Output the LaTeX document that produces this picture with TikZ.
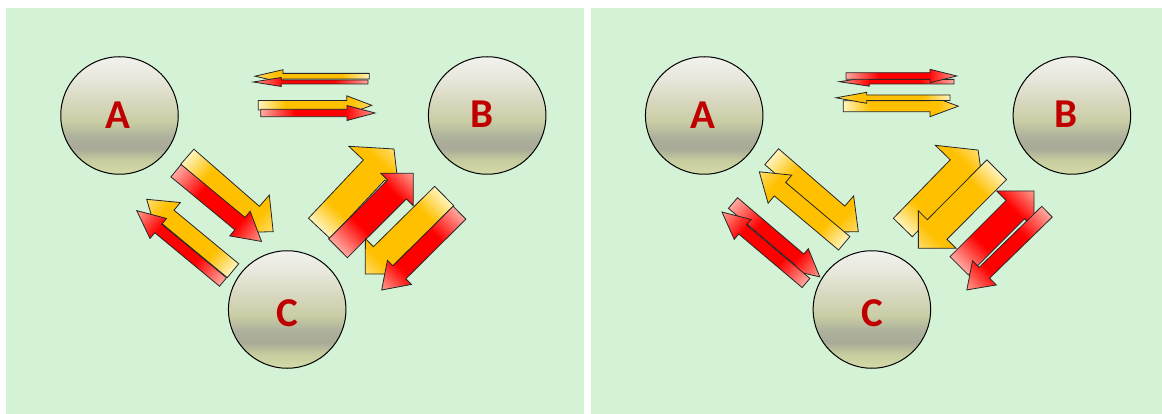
\documentclass[tikz,border=0pt]{standalone}
\usepackage{fontspec}
\setmainfont{Carlito}
\definecolor{bg}{RGB}{212,242,213}
\definecolor{lblred}{RGB}{192,0,0}
\definecolor{yl}{RGB}{255,244,190}
\definecolor{yo}{RGB}{255,192,0}
\definecolor{yh}{RGB}{255,222,110}
\definecolor{rl}{RGB}{255,170,160}
\definecolor{rr}{RGB}{255,0,0}
\definecolor{rh}{RGB}{255,160,145}
\definecolor{c1}{RGB}{242,242,238}
\definecolor{c2}{RGB}{230,230,218}
\definecolor{c3}{RGB}{214,214,188}
\definecolor{c4}{RGB}{201,206,164}
\definecolor{c5}{RGB}{174,177,156}
\definecolor{c6}{RGB}{168,170,151}
\definecolor{c7}{RGB}{198,204,158}
\definecolor{c8}{RGB}{212,218,168}
\pgfdeclareverticalshading{orb}{100bp}{color(0bp)=(c8); color(25bp)=(c8); color(31bp)=(c7); color(36bp)=(c6); color(41bp)=(c5); color(47.5bp)=(c4); color(55bp)=(c3); color(65bp)=(c2); color(75bp)=(c1); color(100bp)=(c1)}
\pgfdeclarehorizontalshading{yshade}{100bp}{color(0bp)=(yl); color(25bp)=(yl); color(37bp)=(yo); color(66bp)=(yo); color(75bp)=(yh); color(100bp)=(yh)}
\pgfdeclarehorizontalshading{rshade}{100bp}{color(0bp)=(rl); color(25bp)=(rl); color(40bp)=(rr); color(62bp)=(rr); color(75bp)=(rh); color(100bp)=(rh)}
\tikzset{
  yarr/.style={draw=black!85, line width=0.8pt, shading=yshade},
  rarr/.style={draw=black!85, line width=0.8pt, shading=rshade},
  ballnode/.style={circle, draw=black, line width=1pt, shading=orb, minimum size=117.5pt, inner sep=0pt},
  lbl/.style={font=\fontsize{41}{41}\selectfont\bfseries, text=lblred, inner sep=0pt},
  panel/.style={fill=bg, draw=none}
}
% #1 style, (#2,#3) tail centre, #4 angle, #5 length, #6 shaft half width, #7 head half width, #8 head length
\newcommand{\blockarrow}[8]{%
  \begin{scope}[transform canvas={shift={(#2,#3)},rotate=#4}]
    \path[#1] (0,#6) -- ({#5-#8},#6) -- ({#5-#8},#7) -- (#5,0) -- ({#5-#8},-#7) -- ({#5-#8},-#6) -- (0,-#6) -- cycle;
  \end{scope}}
\begin{document}
\begin{tikzpicture}[x=1pt,y=-1pt]
\useasboundingbox[fill=white] (0,0) rectangle (1162,414);
\path[panel] (5.5,8.5) rectangle (584,413.5);
\path[panel] (590.5,8.5) rectangle (1162,413.5);

% ---------- left panel ----------
\node[ballnode] (A1) at (119.5,115.5) {};
\node[ballnode] (B1) at (487.2,115.5) {};
\node[ballnode] (C1) at (287.2,309.5) {};
\node[lbl] (A1l) at (118.3,115) {A};
\node[lbl] (B1l) at (481.7,114) {B};
\node[lbl] (C1l) at (287.3,313) {C};

\blockarrow{yarr}{369.3}{76.2}{180}{114.3}{2.8}{6.5}{28}
\blockarrow{rarr}{368}{82}{180}{114.7}{2}{4.5}{28}
\blockarrow{yarr}{258.3}{105.3}{0}{113.4}{4.7}{9.5}{25}
\blockarrow{rarr}{260.7}{113}{0}{114.3}{3.7}{7.5}{28}

\blockarrow{yarr}{187.3}{156.7}{-41.1}{114}{10}{25}{27}
\blockarrow{rarr}{176}{170.7}{-39.6}{111}{8}{16}{28}
\blockarrow{yarr}{233}{270.7}{140.4}{112}{9}{19}{28}
\blockarrow{rarr}{223}{282}{140.4}{112}{5.5}{13}{28}

\blockarrow{yarr}{319.2}{228.3}{46.7}{109}{14.7}{34.7}{29}
\blockarrow{rarr}{338}{248.3}{44.9}{106.3}{13.3}{23}{23}
\blockarrow{yarr}{444.2}{196}{-135.4}{111}{13.6}{25}{25}
\blockarrow{rarr}{459.5}{212.7}{-135.2}{109.7}{9.1}{17}{25}

% ---------- right panel ----------
\node[ballnode] (A2) at (704.2,115.5) {};
\node[ballnode] (B2) at (1071.9,115.5) {};
\node[ballnode] (C2) at (871.9,309.5) {};
\node[lbl] (A2l) at (703,115) {A};
\node[lbl] (B2l) at (1066.4,114) {B};
\node[lbl] (C2l) at (872,313) {C};

\blockarrow{rarr}{954}{81.7}{180}{114.7}{2.3}{4.5}{30}
\blockarrow{rarr}{846}{76}{0}{110.7}{3.3}{6.7}{26.7}
\blockarrow{yarr}{843.3}{106.2}{0}{115}{5.5}{10.5}{28.3}
\blockarrow{yarr}{950}{97.8}{180}{114}{2.8}{5.5}{30.7}

\blockarrow{yarr}{771.7}{156.7}{-40.9}{114.6}{10.5}{24}{27}
\blockarrow{yarr}{844.2}{243.3}{139.9}{111}{8.8}{18.4}{27}
\blockarrow{rarr}{733}{203}{-40.4}{114}{7}{14}{27}
\blockarrow{rarr}{806}{283}{139.8}{110}{6}{13}{27}

\blockarrow{yarr}{902.8}{227.5}{45.8}{108}{13.2}{34}{26.4}
\blockarrow{yarr}{996.7}{169.7}{-134.9}{111}{13.9}{26.5}{26.6}
\blockarrow{rarr}{959.2}{265.8}{45}{105.8}{13}{26.4}{26.4}
\blockarrow{rarr}{1047}{211.7}{-135.7}{112}{7.5}{17}{24.5}
\end{tikzpicture}
\end{document}
